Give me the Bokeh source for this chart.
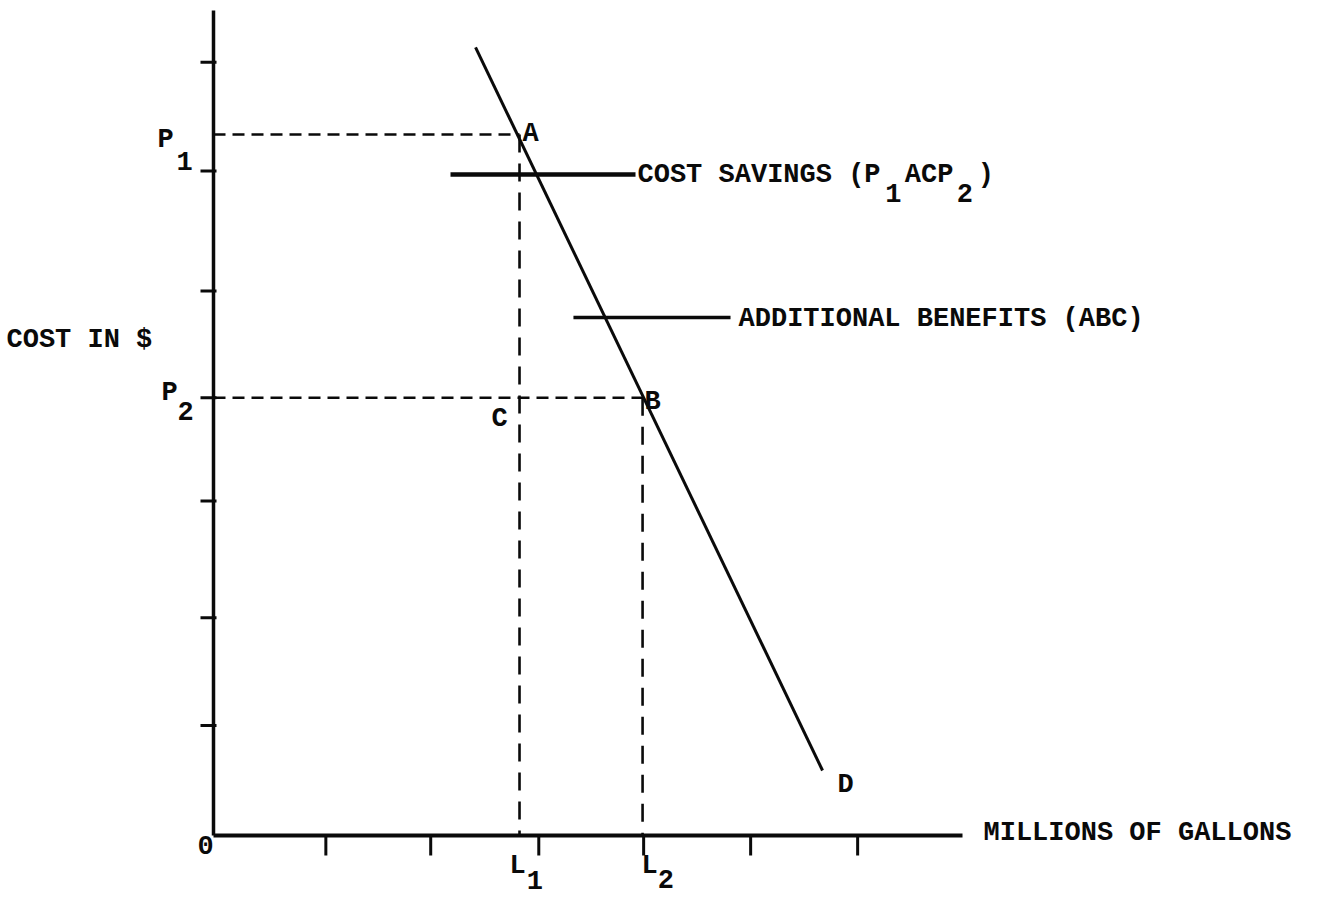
from bokeh.plotting import figure
from bokeh.models import Range1d
from bokeh.embed import file_html
from bokeh.resources import INLINE
from bokeh.core.properties import value

# ---------------- data ----------------
x_ticks = [1.05, 2.03, 3.04, 4.02, 5.02, 6.02]      # quantity ticks
y_ticks = [1.0, 1.98, 3.04, 3.98, 4.95, 6.04, 7.03]  # cost ticks
demand_q = [2.449, 5.692]
demand_p = [7.164, 0.591]
price_levels = [6.373, 3.98]        # P1, P2
quantity_levels = [2.86, 4.01]      # L1, L2
savings_q = [2.215, 3.944]
savings_p = 6.009
benefits_q = [3.364, 4.832]
benefits_p = 4.709
axis_q_max = 7.0
axis_p_max = 7.5

P1, P2 = price_levels
L1, L2 = quantity_levels

# ---------------- layout ----------------
W, H = 1317, 897
XU, YU = 107.0, 110.0          # pixels per data unit
OX, OY = 213.0, 835.0          # pixel position of origin

p = figure(width=W, height=H, output_backend="svg", toolbar_location=None,
           x_range=Range1d(-OX / XU, (W - OX) / XU),
           y_range=Range1d(-(H - OY) / YU, OY / YU),
           x_axis_location=None, y_axis_location=None,
           min_border=0, min_border_left=0, min_border_right=0,
           min_border_top=0, min_border_bottom=0)
p.grid.visible = False
p.outline_line_color = None
p.background_fill_color = "white"
p.border_fill_color = "white"

INK = "#0a0a0a"
FONT = value("Liberation Mono")
FS = 27
CW = FS * 0.6   # monospace advance


def off(x, y, dx, dy):
    """data anchor shifted by screen pixels (dy positive = down)."""
    return x + dx / XU, y - dy / YU


# axes
p.segment(x0=[0], y0=[0], x1=[0], y1=[axis_p_max], line_color=INK, line_width=3.5)
p.segment(x0=[0], y0=[0], x1=[axis_q_max], y1=[0], line_color=INK, line_width=4)

# ticks
p.segment(x0=[-13 / XU] * len(y_ticks), y0=y_ticks, x1=[3 / XU] * len(y_ticks), y1=y_ticks,
          line_color=INK, line_width=3)
p.segment(x0=x_ticks, y0=[0] * len(x_ticks), x1=x_ticks, y1=[-20 / YU] * len(x_ticks),
          line_color=INK, line_width=3)

# dashed guide lines
p.segment(x0=[0, 0], y0=[P1, P2], x1=[L1, L2], y1=[P1, P2],
          line_color=INK, line_width=2.6, line_dash="12 7")
p.segment(x0=[L1, L2], y0=[P1, P2], x1=[L1, L2], y1=[0, 0],
          line_color=INK, line_width=2.6, line_dash="18 11")

# demand curve
p.line(demand_q, demand_p, line_color=INK, line_width=3)

# pointer lines
p.segment(x0=[savings_q[0]], y0=[savings_p], x1=[savings_q[1]], y1=[savings_p],
          line_color=INK, line_width=4.5)
p.segment(x0=[benefits_q[0]], y0=[benefits_p], x1=[benefits_q[1]], y1=[benefits_p],
          line_color=INK, line_width=3.5)

# ---------------- texts ----------------
labels = []  # (text, x, y)


def put(txt, ax, ay, dx, dy):
    x, y = off(ax, ay, dx, dy)
    labels.append((txt, x, y))


SUB = 18  # subscript drop in px

# P1 / P2
put("P", 0, P1, -56, 6)
put("1", 0, P1, -37, 6 + SUB + 3)
put("P", 0, P2, -52, -5)
put("2", 0, P2, -36, -5 + SUB)
# points
put("A", L1, P1, 3, 0)
put("C", L1, P2, -28, 21)
put("B", L2, P2, 2, 4)
put("D", demand_q[1], demand_p[1], 15, 15)
put("0", 0, 0, -16, 9)
# L1 / L2
put("L", L1, 0, -10, 30)
put("1", L1, 0, -10 + CW + 1, 30 + 14)
put("L", L2, 0, -1, 30)
put("2", L2, 0, -1 + CW, 30 + 13)
# axis titles
put("COST IN $", 0, 0, 6 - OX, 339 - OY)
put("MILLIONS OF GALLONS", axis_q_max, 0, 21, -3)
# cost savings
sx0 = 2
put("COST SAVINGS (P", savings_q[1], savings_p, sx0, 0)
put("1", savings_q[1], savings_p, sx0 + 15.3 * CW, SUB)
put("ACP", savings_q[1], savings_p, sx0 + 16.5 * CW, 0)
put("2", savings_q[1], savings_p, sx0 + 19.7 * CW, SUB)
put(")", savings_q[1], savings_p, sx0 + 21.0 * CW, 0)
# additional benefits
put("ADDITIONAL BENEFITS (ABC)", benefits_q[1], benefits_p, 8, 1)

p.text(x=[l[1] for l in labels], y=[l[2] for l in labels], text=[l[0] for l in labels],
       text_font=FONT, text_font_size=f"{FS}px", text_font_style="bold",
       text_color=INK, text_align="left", text_baseline="middle")

open("out.html", "w").write(file_html(p, INLINE))
